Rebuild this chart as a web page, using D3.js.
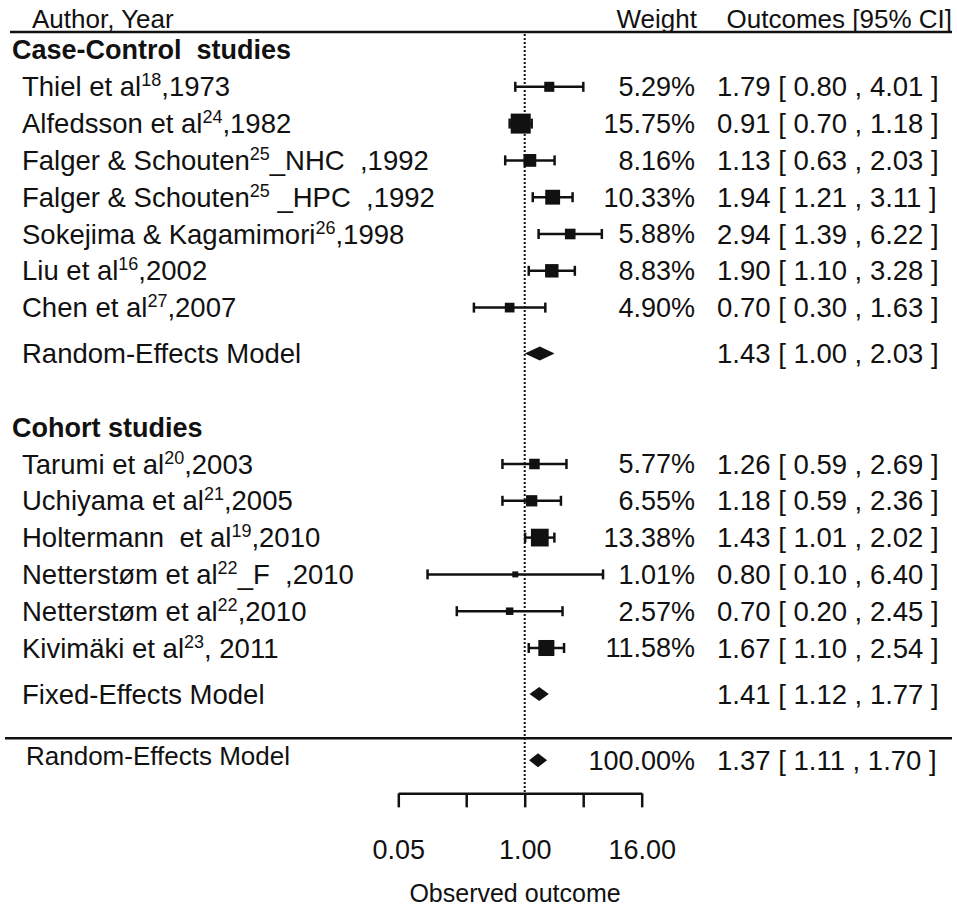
<!DOCTYPE html>
<html>
<head>
<meta charset="utf-8">
<script src="https://cdn.jsdelivr.net/npm/d3@7"></script>
<style>
  body { margin: 0; background: #fff; }
  svg text { font-family: "Liberation Sans", Arial, sans-serif; fill: #111; white-space: pre; }
</style>
</head>
<body>
<div id="chart"></div>
<script>
// ---- data ----
const groupNames = ["Case-Control  studies", "Cohort studies"];

const studyNames = ["Thiel et al", "Alfedsson et al", "Falger & Schouten", "Falger & Schouten",
  "Sokejima & Kagamimori", "Liu et al", "Chen et al",
  "Tarumi et al", "Uchiyama et al", "Holtermann  et al", "Netterstøm et al", "Netterstøm et al", "Kivimäki et al"];
const studyRefs = ["18", "24", "25", "25", "26", "16", "27", "20", "21", "19", "22", "22", "23"];
const studySuffix = [",1973", ",1982", "_NHC  ,1992", " _HPC  ,1992", ",1998", ",2002", ",2007",
  ",2003", ",2005", ",2010", "_F  ,2010", ",2010", ", 2011"];
const studyGroup = [0, 0, 0, 0, 0, 0, 0, 1, 1, 1, 1, 1, 1];
const studyWeight = [5.29, 15.75, 8.16, 10.33, 5.88, 8.83, 4.90, 5.77, 6.55, 13.38, 1.01, 2.57, 11.58];
const studyEst = [1.79, 0.91, 1.13, 1.94, 2.94, 1.90, 0.70, 1.26, 1.18, 1.43, 0.80, 0.70, 1.67];
const studyLow = [0.80, 0.70, 0.63, 1.21, 1.39, 1.10, 0.30, 0.59, 0.59, 1.01, 0.10, 0.20, 1.10];
const studyHigh = [4.01, 1.18, 2.03, 3.11, 6.22, 3.28, 1.63, 2.69, 2.36, 2.02, 6.40, 2.45, 2.54];

const groupSummaryLabel = ["Random-Effects Model", "Fixed-Effects Model"];
const groupSummaryEst = [1.43, 1.41];
const groupSummaryLow = [1.00, 1.12];
const groupSummaryHigh = [2.03, 1.77];

const overallLabel = "Random-Effects Model";
const overallWeight = 100.00;
const overallEst = 1.37, overallLow = 1.11, overallHigh = 1.70;

const tickValues = [0.05, 0.25, 1, 4, 16];
const tickLabels = ["0.05", "", "1.00", "", "16.00"];
const xTitle = "Observed outcome";

// ---- layout ----
const width = 957, height = 908;
const svg = d3.select("#chart").append("svg").attr("width", width).attr("height", height);

const x = d3.scaleLog().domain([0.05, 16]).range([398.3, 641.7]);
const slot = d3.scaleLinear().domain([0, 1]).range([50, 86.8]);
const boxSize = d3.scaleLinear().domain(d3.extent(studyWeight)).range([6, 20]);

const weightX = 695, outcomeX = 717;
const fmt = d3.format(".2f");
const outcomeText = (e, l, h) => `${fmt(e)} [ ${fmt(l)} , ${fmt(h)} ]`;

// build rows with slot positions
const rows = [];
let s = 0;
groupNames.forEach((g, gi) => {
  rows.push({ type: "group", label: g, slot: s });
  studyNames.forEach((n, i) => {
    if (studyGroup[i] !== gi) return;
    s += 1;
    rows.push({ type: "study", i, slot: s });
  });
  s += 1.25;
  rows.push({ type: "summary", gi, slot: s });
  s += 2;
});
const dividerSlot = 18.7, overallSlot = 19.3, axisSlot = 20.2;

// header
svg.append("text").attr("x", 32).attr("y", 28).attr("font-size", 26).text("Author, Year");
svg.append("text").attr("x", 697).attr("y", 28).attr("font-size", 26).attr("text-anchor", "end").text("Weight");
svg.append("text").attr("x", 952).attr("y", 28).attr("font-size", 26).attr("text-anchor", "end").text("Outcomes [95% CI]");
svg.append("line").attr("x1", 10).attr("x2", 952).attr("y1", 32).attr("y2", 32)
  .attr("stroke", "#111").attr("stroke-width", 2.5);

// reference line at 1
svg.append("line").attr("x1", x(1)).attr("x2", x(1)).attr("y1", 34).attr("y2", slot(axisSlot))
  .attr("stroke", "#111").attr("stroke-width", 2).attr("stroke-dasharray", "2,2");

const g = svg.append("g");

function diamond(e, l, h, y) {
  g.append("path")
    .attr("d", `M${x(l)},${y} L${x(e)},${y - 7} L${x(h)},${y} L${x(e)},${y + 7} Z`)
    .attr("fill", "#111");
}

rows.forEach(r => {
  const y = slot(r.slot);
  if (r.type === "group") {
    g.append("text").attr("x", 12).attr("y", y).attr("dy", "0.35em")
      .attr("font-size", 27).attr("font-weight", "bold").text(r.label);
  } else if (r.type === "study") {
    const i = r.i;
    const t = g.append("text").attr("x", 22).attr("y", y + 9.5).attr("font-size", 27.5);
    t.append("tspan").text(studyNames[i]);
    t.append("tspan").attr("font-size", 18).attr("dy", -10).text(studyRefs[i]);
    t.append("tspan").attr("dy", 10).text(studySuffix[i]);

    g.append("text").attr("x", weightX).attr("y", y).attr("dy", "0.35em").attr("font-size", 27)
      .attr("text-anchor", "end").text(fmt(studyWeight[i]) + "%");
    g.append("text").attr("x", outcomeX).attr("y", y).attr("dy", "0.35em").attr("font-size", 27.5)
      .text(outcomeText(studyEst[i], studyLow[i], studyHigh[i]));

    // CI line + caps
    g.append("line").attr("x1", x(studyLow[i])).attr("x2", x(studyHigh[i])).attr("y1", y).attr("y2", y)
      .attr("stroke", "#111").attr("stroke-width", 2.5);
    [studyLow[i], studyHigh[i]].forEach(v => {
      g.append("line").attr("x1", x(v)).attr("x2", x(v)).attr("y1", y - 5).attr("y2", y + 5)
        .attr("stroke", "#111").attr("stroke-width", 2.5);
    });
    const b = boxSize(studyWeight[i]);
    g.append("rect").attr("x", x(studyEst[i]) - b / 2).attr("y", y - b / 2)
      .attr("width", b).attr("height", b).attr("fill", "#111");
  } else {
    const gi = r.gi;
    g.append("text").attr("x", 22).attr("y", y).attr("dy", "0.35em").attr("font-size", 27.5).text(groupSummaryLabel[gi]);
    g.append("text").attr("x", outcomeX).attr("y", y).attr("dy", "0.35em").attr("font-size", 27.5)
      .text(outcomeText(groupSummaryEst[gi], groupSummaryLow[gi], groupSummaryHigh[gi]));
    diamond(groupSummaryEst[gi], groupSummaryLow[gi], groupSummaryHigh[gi], y);
  }
});

// divider + overall
svg.append("line").attr("x1", 5).attr("x2", 952).attr("y1", slot(dividerSlot)).attr("y2", slot(dividerSlot))
  .attr("stroke", "#111").attr("stroke-width", 2.5);
const yo = slot(overallSlot);
g.append("text").attr("x", 26).attr("y", yo).attr("dy", "0.2em").attr("font-size", 26).text(overallLabel);
g.append("text").attr("x", weightX).attr("y", yo).attr("dy", "0.35em").attr("font-size", 27)
  .attr("text-anchor", "end").text(fmt(overallWeight) + "%");
g.append("text").attr("x", outcomeX).attr("y", yo).attr("dy", "0.35em").attr("font-size", 27.5)
  .text(outcomeText(overallEst, overallLow, overallHigh));
diamond(overallEst, overallLow, overallHigh, yo);

// axis
const axis = d3.axisBottom(x).tickValues(tickValues)
  .tickFormat((d, i) => tickLabels[i]).tickSizeInner(14).tickSizeOuter(0).tickPadding(32);
const ax = svg.append("g").attr("transform", `translate(0,${slot(axisSlot)})`).call(axis);
ax.select(".domain").attr("stroke", "#111").attr("stroke-width", 2.5);
ax.selectAll(".tick line").attr("stroke", "#111").attr("stroke-width", 2.5);
ax.selectAll(".tick text").attr("font-size", 27).attr("font-family", "Liberation Sans, Arial, sans-serif").attr("fill", "#111");

svg.append("text").attr("x", 515).attr("y", 902).attr("text-anchor", "middle").attr("font-size", 25).text(xTitle);
</script>
</body>
</html>
